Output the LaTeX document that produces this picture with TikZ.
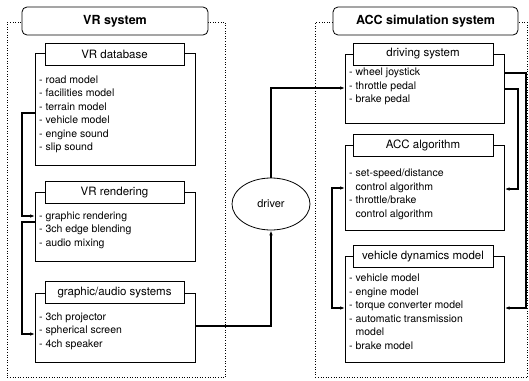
\documentclass[tikz,border=0pt]{standalone}
\usepackage{fontspec}
\setmainfont{TeX Gyre Heros}
\usetikzlibrary{shapes.geometric,arrows.meta}
\begin{document}
\begin{tikzpicture}[x=1pt,y=-1pt,
  outer/.style={draw, dotted, line width=0.6pt, inner sep=0, anchor=north west},
  head/.style={draw, fill=white, rounded corners=5pt, line width=0.8pt, inner sep=0,
    font=\fontsize{12.5}{14}\selectfont\bfseries},
  body/.style={draw, line width=0.7pt, inner sep=0, anchor=north west},
  ttl/.style={draw, fill=white, line width=0.7pt, minimum height=22pt, inner sep=0,
    font=\fontsize{11.5}{13}\selectfont},
  items/.style={inner sep=0, anchor=north west, align=left,
    font=\fontsize{10.5}{13.5}\selectfont},
  conn/.style={line width=1.1pt, -{Latex[length=5pt,width=3.6pt]}},
]
\useasboundingbox (0,0) rectangle (529,380);

% outer dotted frames
\node[outer, minimum width=218pt, minimum height=355pt] (vrsys) at (7,22) {};
\node[outer, minimum width=212pt, minimum height=355pt] (accsys) at (315,22) {};

% headings
\node[head, minimum width=186pt, minimum height=28pt] (vrh) at (115,21) {VR system};
\node[head, minimum width=185pt, minimum height=28pt] (acch) at (425.5,21) {ACC simulation system};

% VR side bodies
\node[body, minimum width=160pt, minimum height=112pt] (db) at (35,53) {};
\node[body, minimum width=160pt, minimum height=69pt] (rend) at (35,192) {};
\node[body, minimum width=160pt, minimum height=69pt] (ga) at (35,293) {};

% ACC side bodies
\node[body, minimum width=159pt, minimum height=69pt] (ds) at (345,54) {};
\node[body, minimum width=159pt, minimum height=85pt] (acc) at (345,145) {};
\node[body, minimum width=159pt, minimum height=106pt] (vd) at (345,256) {};

% titles
\node[ttl, minimum width=139pt] (dbT) at (114.5,54) {VR database};
\node[ttl, minimum width=139pt] (rendT) at (114.5,192.5) {VR rendering};
\node[ttl, minimum width=139pt] (gaT) at (114.5,292.5) {graphic/audio systems};
\node[ttl, minimum width=140pt] (dsT) at (423,54) {driving system};
\node[ttl, minimum width=140pt] (accT) at (423,145) {ACC algorithm};
\node[ttl, minimum width=140pt] (vdT) at (423,256.5) {vehicle dynamics model};

% item lists
\node[items] (dbI) at (39,75.5) {- road model\\- facilities model\\- terrain model\\- vehicle model\\- engine sound\\- slip sound};
\node[items] (rendI) at (39,211.5) {- graphic rendering\\- 3ch edge blending\\- audio mixing};
\node[items] (gaI) at (39,312.5) {- 3ch projector\\- spherical screen\\- 4ch speaker};
\node[items] (dsI) at (349,68) {- wheel joystick\\- throttle pedal\\- brake pedal};
\node[items] (accI) at (349,169) {- set-speed/distance\\\phantom{- }control algorithm\\- throttle/brake\\\phantom{- }control algorithm};
\node[items] (vdI) at (349,274) {- vehicle model\\- engine model\\- torque converter model\\- automatic transmission\\\phantom{- }model\\- brake model};

% driver
\node[ellipse, draw, line width=0.8pt, minimum width=78pt, minimum height=52pt, inner sep=0,
  font=\fontsize{11}{13}\selectfont] (drv) at (271,204) {driver};

% connectors
\draw[conn] (db.west |- 0,113) -- (22,113) |- (rend.west |- 0,216);
\draw[conn] (rend.west |- 0,222) -- (22,222) |- (ga.west |- 0,334);
\draw[conn] (ga.east |- 0,326) -| (drv.south);
\draw[conn] (drv.north) |- (ds.west |- 0,88);
\draw[conn] (ds.east |- 0,73) -- (526,73) |- (vd.east |- 0,308);
\draw[conn] (ds.east |- 0,89) -- (518,89) |- (acc.east |- 0,189);
\draw[conn, {Latex[length=5pt,width=3.6pt]}-{Latex[length=5pt,width=3.6pt]}] (acc.west |- 0,188) -- (332,188) |- (vd.west |- 0,308);
\end{tikzpicture}
\end{document}
